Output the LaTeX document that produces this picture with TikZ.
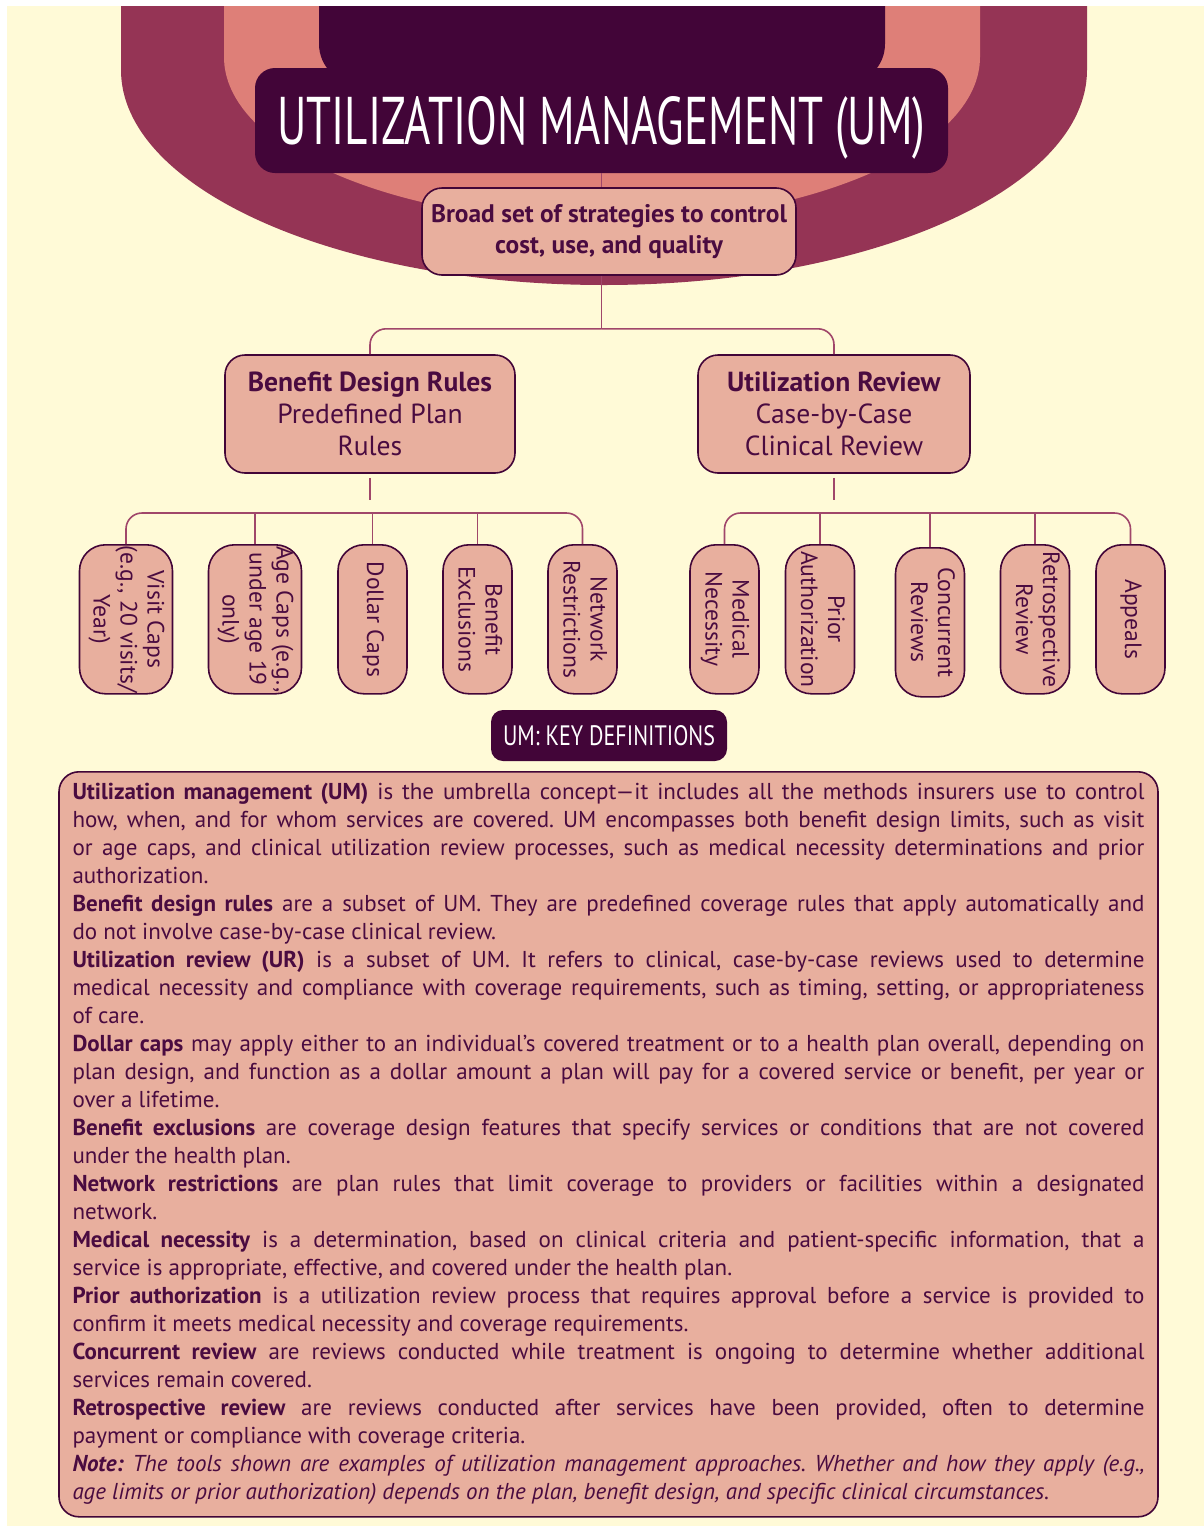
\documentclass[tikz,border=0pt]{standalone}
\usepackage{fontspec}
\setmainfont{PT Sans}
\usepackage{graphicx}
\usepackage{xcolor}
\usetikzlibrary{positioning, shapes.geometric, arrows}

\definecolor{cream}{HTML}{FFFAD7}
\definecolor{wine}{HTML}{953455}
\definecolor{salmon}{HTML}{DE7F78}
\definecolor{plum}{HTML}{420538}
\definecolor{blush}{HTML}{E8AF9E}
\definecolor{ink}{HTML}{4A0B40}
\definecolor{rose}{HTML}{A0466A}

% vertical text for the small tool boxes
\newcommand{\vlines}[1]{\rotatebox{-90}{\begin{tabular}{@{}c@{}}#1\end{tabular}}}

\begin{document}
\begin{tikzpicture}[x=0.5pt, y=-0.5pt, font=\fontsize{11.8}{13.5}\selectfont,
    box/.style={draw=plum, line width=0.8pt, fill=blush, text=ink, rounded corners=10pt, align=center},
    leaf/.style={box, rounded corners=13pt, minimum width=34.5pt, minimum height=74.5pt, inner xsep=3pt, inner ysep=0pt, anchor=north},
    banner/.style={fill=plum, text=white, rounded corners=10pt, text depth=0pt},
    link/.style={draw=rose, line width=0.8pt}]

    \useasboundingbox (0,0) rectangle (1204,1526);

    % Background
    \fill[white] (0,0) rectangle (1204,1526);
    \fill[cream] (7,6) rectangle (1204,1526);

    % Arches
    \begin{scope}
        \clip (7,6) rectangle (1204,1526);
        \fill[wine] (121,6) -- (121,70) arc[start angle=180, end angle=360, x radius=241.5pt, y radius=107.5pt] -- (1087,6) -- cycle;
        \fill[salmon] (224,6) -- (224,57) arc[start angle=180, end angle=360, x radius=189pt, y radius=82.5pt] -- (980,6) -- cycle;
        \fill[plum, rounded corners=20pt] (319,-60) rectangle (885,84);
    \end{scope}

    % Top of the tree
    \node[banner, minimum width=346.5pt, minimum height=52.5pt] (title) at (601.5,120.5)
        {\resizebox{324pt}{24pt}{UTILIZATION MANAGEMENT (UM)}};
    \node[box, minimum width=187pt, minimum height=43.5pt, inner xsep=2pt, font=\fontsize{12.7}{15.5}\selectfont\bfseries] (aim) at (609,231.5)
        {Broad set of strategies to control\\cost, use, and quality};
    \node[box, minimum width=145pt, minimum height=59pt, font=\fontsize{13.8}{16}\selectfont] (bdr) at (370,414)
        {\textbf{Benefit Design Rules}\\Predefined Plan\\Rules};
    \node[box, minimum width=136pt, minimum height=59pt, font=\fontsize{13.8}{16}\selectfont] (ur) at (834,414)
        {\textbf{Utilization Review}\\Case-by-Case\\Clinical Review};

    \draw[link] (title.south) -- (title.south |- aim.north);
    \draw[link] (title.south |- aim.south) -- ++(0,53) coordinate (fork);
    \draw[link, rounded corners=8pt] (fork) -| (bdr.north);
    \draw[link, rounded corners=8pt] (fork) -| (ur.north);

    % Benefit design tools
    \node[leaf] (visit) at (126,544) {\vlines{Visit Caps\\(e.g., 20 visits/\\Year)}};
    \node[leaf] (age) at (255,544) {\vlines{Age Caps (e.g.,\\under age 19\\only)}};
    \node[leaf] (dollar) at (372.5,544) {\vlines{Dollar Caps}};
    \node[leaf] (exclusion) at (477.5,544) {\vlines{Benefit\\Exclusions}};
    \node[leaf] (network) at (582.5,544) {\vlines{Network\\Restrictions}};

    % Utilization review tools
    \node[leaf] (necessity) at (724.5,544) {\vlines{Medical\\Necessity}};
    \node[leaf] (prior) at (820,544) {\vlines{Prior\\Authorization}};
    \node[leaf] (concurrent) at (930,547) {\vlines{Concurrent\\Reviews}};
    \node[leaf] (retro) at (1035,544) {\vlines{Retrospective\\Review}};
    \node[leaf] (appeals) at (1130.5,544) {\vlines{Appeals}};

    \coordinate (bus) at (0,513);
    \draw[link] ([yshift=-2pt]bdr.south) -- ++(0,22);
    \draw[link] ([yshift=-2pt]ur.south) -- ++(0,22);
    \draw[link, rounded corners=8pt] (visit.north) -- (visit.north |- bus) -| (network.north);
    \draw[link, rounded corners=8pt] (necessity.north) -- (necessity.north |- bus) -| (appeals.north);
    \foreach \n in {age, dollar, exclusion, prior, concurrent, retro}
        \draw[link] (\n.north) -- (\n.north |- bus);

    % Definitions
    \node[banner, rounded corners=6pt, minimum width=118pt, minimum height=25.5pt] (keys) at (609,735.5)
        {\resizebox{106pt}{10pt}{UM: KEY DEFINITIONS}};

    \node[box, anchor=north, text width=536pt, inner xsep=6.75pt, inner ysep=4pt, minimum height=372.5pt, align=justify,
          font=\fontsize{11.5}{14}\selectfont] (defs) at (608.5,771) {%
        \parindent=0pt \tolerance=10000 \hyphenpenalty=10000 \exhyphenpenalty=10000 \frenchspacing
        \textbf{Utilization management (UM)} is the umbrella concept---it includes all the methods insurers use to control \linebreak
        how, when, and for whom services are covered. UM encompasses both benefit design limits, such as visit \linebreak
        or age caps, and clinical utilization review processes, such as medical necessity determinations and prior \linebreak
        authorization.\par
        \textbf{Benefit design rules} are a subset of UM. They are predefined coverage rules that apply automatically and \linebreak
        do not involve case-by-case clinical review.\par
        \textbf{Utilization review (UR)} is a subset of UM. It refers to clinical, case-by-case reviews used to determine \linebreak
        medical necessity and compliance with coverage requirements, such as timing, setting, or appropriateness \linebreak
        of care.\par
        \textbf{Dollar caps} may apply either to an individual’s covered treatment or to a health plan overall, depending on \linebreak
        plan design, and function as a dollar amount a plan will pay for a covered service or benefit, per year or \linebreak
        over a lifetime.\par
        \textbf{Benefit exclusions} are coverage design features that specify services or conditions that are not covered \linebreak
        under the health plan.\par
        \textbf{Network restrictions} are plan rules that limit coverage to providers or facilities within a designated \linebreak
        network.\par
        \textbf{Medical necessity} is a determination, based on clinical criteria and patient-specific information, that a \linebreak
        service is appropriate, effective, and covered under the health plan.\par
        \textbf{Prior authorization} is a utilization review process that requires approval before a service is provided to \linebreak
        confirm it meets medical necessity and coverage requirements.\par
        \textbf{Concurrent review} are reviews conducted while treatment is ongoing to determine whether additional \linebreak
        services remain covered.\par
        \textbf{Retrospective review} are reviews conducted after services have been provided, often to determine \linebreak
        payment or compliance with coverage criteria.\par
        \textit{\textbf{Note:} The tools shown are examples of utilization management approaches. Whether and how they apply (e.g., \linebreak
        age limits or prior authorization) depends on the plan, benefit design, and specific clinical circumstances.}\par};
\end{tikzpicture}
\end{document}
